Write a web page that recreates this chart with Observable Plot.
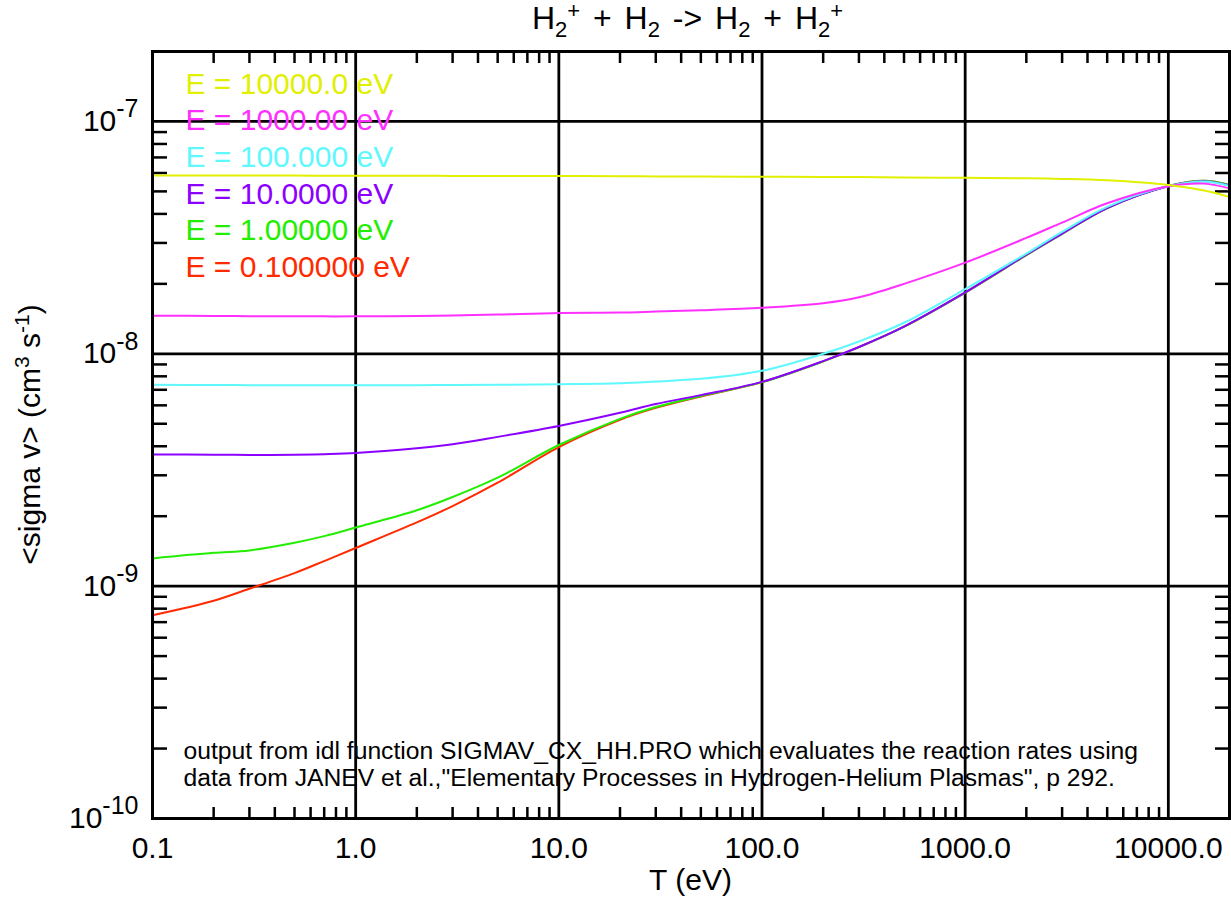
<!DOCTYPE html>
<html><head><meta charset="utf-8">
<script src="https://cdn.jsdelivr.net/npm/d3@7"></script>
<script src="https://cdn.jsdelivr.net/npm/@observablehq/plot@0.6"></script>
<style>html,body{margin:0;padding:0;background:#fff;} svg{display:block;}</style>
</head><body><div id="chart"></div>
<script>
// ---- data ----
const T = [0.1, 0.2, 0.3, 0.5, 0.7, 1, 2, 3, 5, 10, 20, 30, 50, 100, 200, 300, 500, 1000, 2000, 3000, 5000, 10000, 15000, 20000];
const sigmaE10000 = [5.85e-8,5.85e-8,5.85e-8,5.85e-8,5.84e-8,5.84e-8,5.84e-8,5.83e-8,5.83e-8,5.82e-8,5.81e-8,5.80e-8,5.79e-8,5.78e-8,5.77e-8,5.76e-8,5.74e-8,5.72e-8,5.69e-8,5.66e-8,5.58e-8,5.33e-8,5.04e-8,4.73e-8];
const sigmaE1000  = [1.458e-8,1.455e-8,1.452e-8,1.45e-8,1.449e-8,1.449e-8,1.455e-8,1.46e-8,1.475e-8,1.50e-8,1.505e-8,1.52e-8,1.54e-8,1.578e-8,1.65e-8,1.75e-8,2.0e-8,2.467e-8,3.153e-8,3.67e-8,4.444e-8,5.26e-8,5.40e-8,5.15e-8];
const sigmaE100   = [7.35e-9,7.34e-9,7.33e-9,7.32e-9,7.32e-9,7.32e-9,7.33e-9,7.34e-9,7.36e-9,7.40e-9,7.47e-9,7.60e-9,7.80e-9,8.45e-9,1.0e-8,1.13e-8,1.36e-8,1.90e-8,2.70e-8,3.35e-8,4.29e-8,5.27e-8,5.52e-8,5.28e-8];
const sigmaE10    = [3.69e-9,3.68e-9,3.67e-9,3.68e-9,3.70e-9,3.74e-9,3.92e-9,4.08e-9,4.39e-9,4.89e-9,5.57e-9,6.08e-9,6.64e-9,7.57e-9,9.3e-9,1.07e-8,1.31e-8,1.837e-8,2.67e-8,3.29e-8,4.24e-8,5.26e-8,5.53e-8,5.30e-8];
const sigmaE1     = [1.316e-9,1.391e-9,1.425e-9,1.538e-9,1.642e-9,1.787e-9,2.12e-9,2.418e-9,2.929e-9,4.05e-9,5.25e-9,5.90e-9,6.58e-9,7.55e-9,9.28e-9,1.068e-8,1.308e-8,1.835e-8,2.66e-8,3.28e-8,4.24e-8,5.27e-8,5.56e-8,5.33e-8];
const sigmaE01    = [7.5e-10,8.66e-10,9.75e-10,1.138e-9,1.282e-9,1.46e-9,1.88e-9,2.212e-9,2.787e-9,3.97e-9,5.20e-9,5.85e-9,6.55e-9,7.55e-9,9.28e-9,1.068e-8,1.308e-8,1.835e-8,2.66e-8,3.28e-8,4.24e-8,5.27e-8,5.56e-8,5.33e-8];

const legendLabels = ["E = 10000.0 eV","E = 1000.00 eV","E = 100.000 eV","E = 10.0000 eV","E = 1.00000 eV","E = 0.100000 eV"];
const seriesColors = ["#e0f000","#ff30ff","#5ff8ff","#8c00ff","#22ee00","#ff2a00"];
const seriesValues = [sigmaE10000, sigmaE1000, sigmaE100, sigmaE10, sigmaE1, sigmaE01];

const xMajor = [0.1, 1, 10, 100, 1000, 10000];
const xTickLabels = ["0.1","1.0","10.0","100.0","1000.0","10000.0"];
const yMajor = [1e-10, 1e-9, 1e-8, 1e-7];
const yExponents = ["-10","-9","-8","-7"];

const noteLines = ["output from idl function SIGMAV_CX_HH.PRO which evaluates the reaction rates using",
                   "data from JANEV et al.,\"Elementary Processes in Hydrogen-Helium Plasmas\", p 292."];

// minor ticks (axis decoration)
const xMinor = [];
xMajor.forEach(d => { for (let k = 2; k <= 9; k++) { const v = d * k; if (v < 20000) xMinor.push(v); } });
const yMinor = [];
yMajor.slice(0, 3).forEach(d => { for (let k = 2; k <= 9; k++) yMinor.push(d * k); });

const xLabelMap = new Map(xMajor.map((v, i) => [v, xTickLabels[i]]));
const yLabelMap = new Map(yMajor.map((v, i) => [v, "10|" + yExponents[i]]));

const W = 1231, H = 900, ML = 152, MR = 2, MT = 51, MB = 82;
const FS = 30;

// draw order: lowest energy first
const order = [5, 4, 3, 2, 1, 0];
const lineMarks = order.map(s => Plot.line(T.map((t, i) => ({T: t, v: seriesValues[s][i]})),
  {x: "T", y: "v", stroke: seriesColors[s], strokeWidth: 2, curve: "catmull-rom"}));

const legendMarks = legendLabels.map((lab, i) => Plot.text([lab], {
  text: d => d, frameAnchor: "top-left", lineAnchor: "top", textAnchor: "start",
  dx: 33, dy: 21 + i * 36.6, fill: seriesColors[i], fontSize: FS
}));

const minorOpts = {tickFormat: () => "", label: null, strokeWidth: 2.5};

const chart = Plot.plot({
  width: W, height: H,
  marginLeft: ML, marginRight: MR, marginTop: MT, marginBottom: MB,
  x: {type: "log", domain: [0.1, 20000]},
  y: {type: "log", domain: [1e-10, 2e-7]},
  style: {fontFamily: "'Liberation Sans', Arial, Helvetica, sans-serif", fontSize: FS + "px", color: "black", background: "white", overflow: "visible"},
  marks: [
    Plot.ruleX(xMajor, {stroke: "black", strokeWidth: 2.8}),
    Plot.ruleY(yMajor, {stroke: "black", strokeWidth: 2.8}),
    Plot.axisX(xMinor, {anchor: "bottom", tickSize: -11, ...minorOpts}),
    Plot.axisX(xMinor, {anchor: "top", tickSize: -11, ...minorOpts}),
    Plot.axisY(yMinor, {anchor: "left", tickSize: -15, ...minorOpts}),
    Plot.axisY(yMinor, {anchor: "right", tickSize: -15, ...minorOpts}),
    Plot.axisX(xMajor, {anchor: "bottom", tickSize: 0, tickPadding: 18, fontSize: FS, tickFormat: d => xLabelMap.get(d), label: null}),
    Plot.axisY(yMajor, {anchor: "left", tickSize: 0, tickPadding: 14, fontSize: FS, tickFormat: d => yLabelMap.get(d), label: null}),
    ...lineMarks,
    ...legendMarks,
    Plot.text([noteLines.join("\n")], {
      text: d => d, frameAnchor: "top-left", lineAnchor: "top", textAnchor: "start",
      dx: 31, dy: 688, lineHeight: 1.1, fontSize: 24.7, fill: "black"
    }),
    Plot.frame({stroke: "black", strokeWidth: 3})
  ]
});

document.getElementById("chart").appendChild(chart);
const svg = d3.select(chart);

// y tick labels with superscript exponents
svg.selectAll('g[aria-label="y-axis tick label"] text').each(function () {
  const t = this.textContent;
  if (!t.includes("|")) return;
  const [b, e] = t.split("|");
  const s = d3.select(this);
  s.text(null);
  s.append("tspan").text(b);
  s.append("tspan").attr("dy", "-0.55em").attr("font-size", 25).text(e);
});

const cx = (ML + W - MR) / 2;
// title with sub/superscripts
const TFS = 32;
const title = svg.append("text").attr("x", cx - 3).attr("y", 28.5).attr("text-anchor", "middle")
  .attr("font-size", TFS).attr("fill", "black").style("word-spacing", "4px");
(function () {
  let cur = 0;
  [["H",""],["2","sub"],["+","sup"],[" + H",""],["2","sub"],[" -> H",""],["2","sub"],[" + H",""],["2","sub"],["+","sup"]].forEach(([str, kind]) => {
    const target = kind === "sub" ? 8.7 : kind === "sup" ? -10.5 : 0;
    title.append("tspan").attr("dy", target - cur).attr("font-size", kind ? 22 : TFS).text(str);
    cur = target;
  });
})();

// x axis title
svg.append("text").attr("x", cx).attr("y", 890).attr("text-anchor", "middle")
  .attr("font-size", FS).attr("fill", "black").text("T (eV)");

// y axis title
const ylab = svg.append("text").attr("transform", `translate(40,${(MT + H - MB) / 2}) rotate(-90)`)
  .attr("text-anchor", "middle").attr("font-size", FS).attr("fill", "black");
(function () {
  let cur = 0;
  [["<sigma v> (cm",""],["3","sup"],[" s",""],["-1","sup"],[")",""]].forEach(([str, kind]) => {
    const target = kind === "sup" ? -11 : 0;
    ylab.append("tspan").attr("dy", target - cur).attr("font-size", kind ? 21 : FS).text(str);
    cur = target;
  });
})();
</script></body></html>
